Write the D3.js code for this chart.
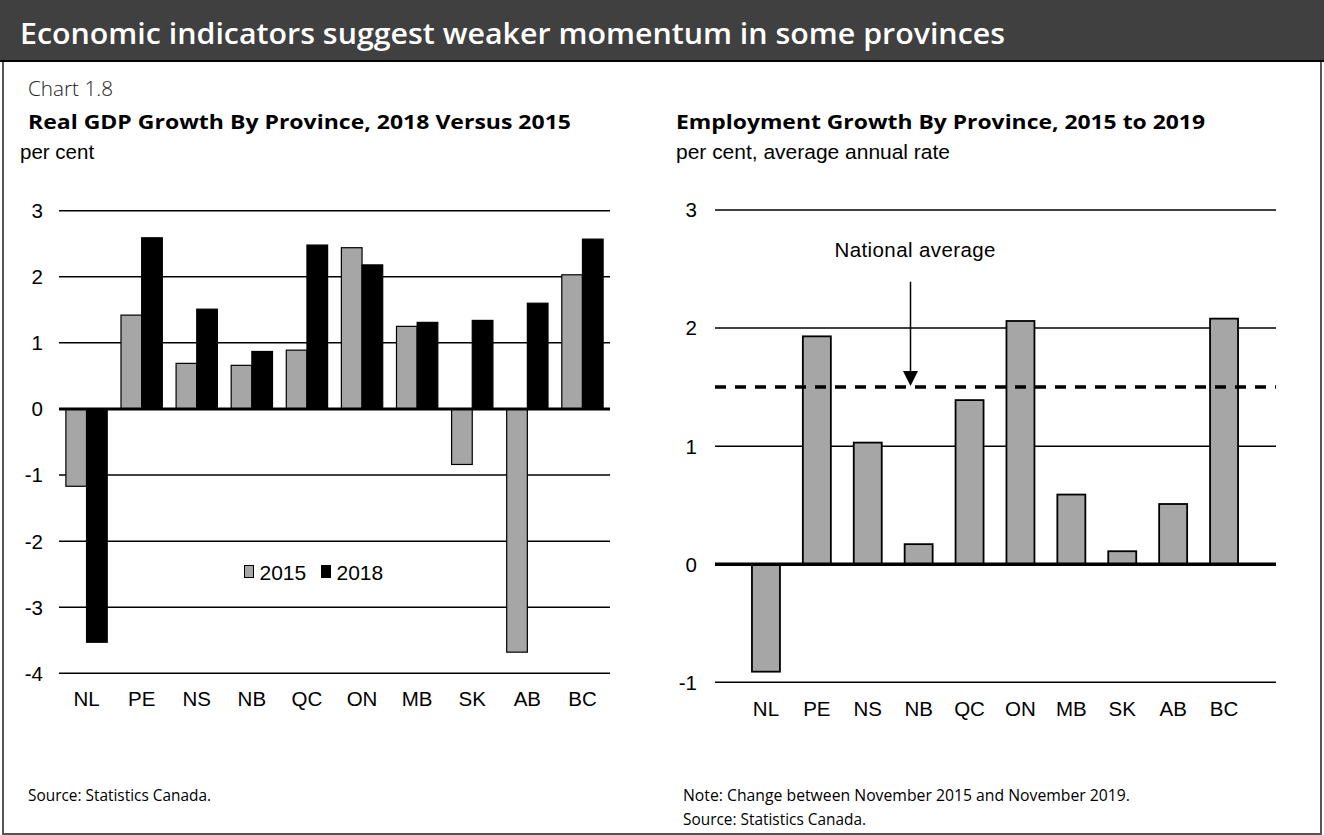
<!DOCTYPE html>
<html>
<head>
<meta charset="utf-8">
<script src="https://cdn.jsdelivr.net/npm/d3@7"></script>
<style>
  body { margin: 0; background: #fff; }
  svg { display: block; }
  .seg { font-family: "Open Sans", "Noto Sans", sans-serif; }
  .ar { font-family: "Liberation Sans", Arial, sans-serif; }
</style>
</head>
<body>
<svg width="1324" height="835"></svg>
<script>
// data
var provinces = ["NL", "PE", "NS", "NB", "QC", "ON", "MB", "SK", "AB", "BC"];
var gdp2015 = [-1.17, 1.42, 0.69, 0.66, 0.89, 2.44, 1.25, -0.84, -3.68, 2.03];
var gdp2018 = [-3.53, 2.59, 1.51, 0.87, 2.48, 2.18, 1.31, 1.34, 1.60, 2.57];
var empGrowth = [-0.91, 1.93, 1.03, 0.17, 1.39, 2.06, 0.59, 0.11, 0.51, 2.08];
var nationalAvg = 1.5;
var gdpTicks = [3, 2, 1, 0, -1, -2, -3, -4];
var empTicks = [3, 2, 1, 0, -1];
var gdpSeries = ["2015", "2018"];

var grey = "#a6a6a6";
var svg = d3.select("svg");

// helper for the heading texts, stretched to the width seen in the picture
function label(x, y, size, weight, txt, len, cls) {
  var t = svg.append("text").attr("class", cls || "seg").attr("x", x).attr("y", y)
    .attr("font-size", size).attr("font-weight", weight).text(txt);
  if (len) t.attr("textLength", len).attr("lengthAdjust", "spacingAndGlyphs");
  return t;
}

// frame + header
svg.append("rect").attr("x", 3).attr("y", 0).attr("width", 1318).attr("height", 834)
  .attr("fill", "#fff").attr("stroke", "#555").attr("stroke-width", 2);
svg.append("rect").attr("x", 0).attr("y", 0).attr("width", 1324).attr("height", 60).attr("fill", "#404040");
svg.append("line").attr("x1", 0).attr("x2", 1324).attr("y1", 61).attr("y2", 61)
  .attr("stroke", "#000").attr("stroke-width", 2);
label(20, 44, 28, 600, "Economic indicators suggest weaker momentum in some provinces", 985).attr("fill", "#fff");

label(28, 96, 21, 300, "Chart 1.8", 85).attr("fill", "#222");
label(28, 129, 20, 700, "Real GDP Growth By Province, 2018 Versus 2015", 543);
label(20, 159, 20.5, 400, "per cent", null, "ar");
label(676, 129, 20, 700, "Employment Growth By Province, 2015 to 2019", 529);
label(676, 159, 20.5, 400, "per cent, average annual rate", 274, "ar");

// ---- left chart: GDP
var yL = d3.scaleLinear().domain([-4, 3]).range([673.3, 210.7]);
var xL = d3.scaleBand().domain(provinces).range([59, 610]).paddingInner(0.25).paddingOuter(0.125);
var xLs = d3.scaleBand().domain(gdpSeries).range([0, xL.bandwidth()]);

var gL = svg.append("g");
gL.selectAll(".grid").data(gdpTicks.filter(function(t) { return t != 0; })).enter().append("line")
  .attr("x1", 59).attr("x2", 610)
  .attr("y1", function(d) { return yL(d); }).attr("y2", function(d) { return yL(d); })
  .attr("stroke", "#000").attr("stroke-width", 1.5);

var rows = provinces.map(function(p, i) { return {p: p, v: [gdp2015[i], gdp2018[i]]}; });
var grp = gL.selectAll(".grp").data(rows).enter().append("g")
  .attr("transform", function(d) { return "translate(" + xL(d.p) + ",0)"; });
grp.selectAll("rect").data(function(d) { return d.v.map(function(v, j) { return {s: gdpSeries[j], v: v}; }); })
  .enter().append("rect")
  .attr("x", function(d) { return xLs(d.s); })
  .attr("width", xLs.bandwidth())
  .attr("y", function(d) { return yL(Math.max(0, d.v)); })
  .attr("height", function(d) { return Math.abs(yL(d.v) - yL(0)); })
  .attr("fill", function(d) { return d.s == "2015" ? grey : "#000"; })
  .attr("stroke", "#000").attr("stroke-width", 1.2);

gL.append("line").attr("x1", 59).attr("x2", 610).attr("y1", yL(0)).attr("y2", yL(0))
  .attr("stroke", "#000").attr("stroke-width", 3);

gL.selectAll(".yl").data(gdpTicks).enter().append("text").attr("class", "ar")
  .attr("x", 43).attr("y", function(d) { return yL(d); }).attr("dy", "0.36em")
  .attr("text-anchor", "end").attr("font-size", 20.5).text(function(d) { return d; });
gL.selectAll(".xl").data(provinces).enter().append("text").attr("class", "ar")
  .attr("x", function(d) { return xL(d) + xL.bandwidth() / 2; }).attr("y", 706)
  .attr("text-anchor", "middle").attr("font-size", 20.5).text(function(d) { return d; });

// legend
var leg = gL.append("g").attr("transform", "translate(244,565)");
gdpSeries.forEach(function(s, i) {
  var lx = i * 77;
  leg.append("rect").attr("x", lx + 0.5).attr("y", 0.5).attr("width", 9).attr("height", 12)
    .attr("fill", s == "2015" ? grey : "#000").attr("stroke", "#000").attr("stroke-width", 1);
  leg.append("text").attr("class", "ar").attr("x", lx + 15.5).attr("y", 14.5)
    .attr("font-size", 21).text(s);
});

label(28, 801, 15.5, 400, "Source: Statistics Canada.", 183);

// ---- right chart: employment
var yR = d3.scaleLinear().domain([-1, 3]).range([682.3, 210]);
var xR = d3.scaleBand().domain(provinces).range([740.5, 1249.5]).paddingInner(0.45).paddingOuter(0.225);
var gR = svg.append("g");
gR.selectAll(".grid").data(empTicks.filter(function(t) { return t != 0; })).enter().append("line")
  .attr("x1", 715).attr("x2", 1276)
  .attr("y1", function(d) { return yR(d); }).attr("y2", function(d) { return yR(d); })
  .attr("stroke", "#000").attr("stroke-width", 1.5);

gR.selectAll(".bar").data(empGrowth).enter().append("rect")
  .attr("x", function(d, i) { return xR(provinces[i]); })
  .attr("width", xR.bandwidth())
  .attr("y", function(d) { return yR(Math.max(0, d)); })
  .attr("height", function(d) { return Math.abs(yR(d) - yR(0)); })
  .attr("fill", grey).attr("stroke", "#000").attr("stroke-width", 1.8);

gR.append("line").attr("x1", 715).attr("x2", 1276).attr("y1", yR(0)).attr("y2", yR(0))
  .attr("stroke", "#000").attr("stroke-width", 3.5);

gR.append("line").attr("x1", 715).attr("x2", 1276).attr("y1", yR(nationalAvg)).attr("y2", yR(nationalAvg))
  .attr("stroke", "#000").attr("stroke-width", 3.5).attr("stroke-dasharray", "11,9");

var ax = 910.5, ay = yR(nationalAvg);
gR.append("line").attr("x1", ax).attr("x2", ax).attr("y1", 281.7).attr("y2", ay - 14)
  .attr("stroke", "#000").attr("stroke-width", 1.5);
gR.append("path")
  .attr("d", "M" + (ax - 7.5) + "," + (ay - 16) + "L" + (ax + 7.5) + "," + (ay - 16) + "L" + ax + "," + (ay - 1) + "Z")
  .attr("fill", "#000");
gR.append("text").attr("class", "ar").attr("x", 915).attr("y", 257).attr("text-anchor", "middle")
  .attr("font-size", 20.5).attr("textLength", 161).attr("lengthAdjust", "spacing")
  .text("National average");

gR.selectAll(".yl").data(empTicks).enter().append("text").attr("class", "ar")
  .attr("x", 697).attr("y", function(d) { return yR(d); }).attr("dy", "0.36em")
  .attr("text-anchor", "end").attr("font-size", 20.5).text(function(d) { return d; });
gR.selectAll(".xl").data(provinces).enter().append("text").attr("class", "ar")
  .attr("x", function(d) { return xR(d) + xR.bandwidth() / 2; }).attr("y", 716)
  .attr("text-anchor", "middle").attr("font-size", 20.5).text(function(d) { return d; });

label(683, 801, 15.5, 400, "Note: Change between November 2015 and November 2019.", 447);
label(683, 825, 15.5, 400, "Source: Statistics Canada.", 183);
</script>
</body>
</html>
